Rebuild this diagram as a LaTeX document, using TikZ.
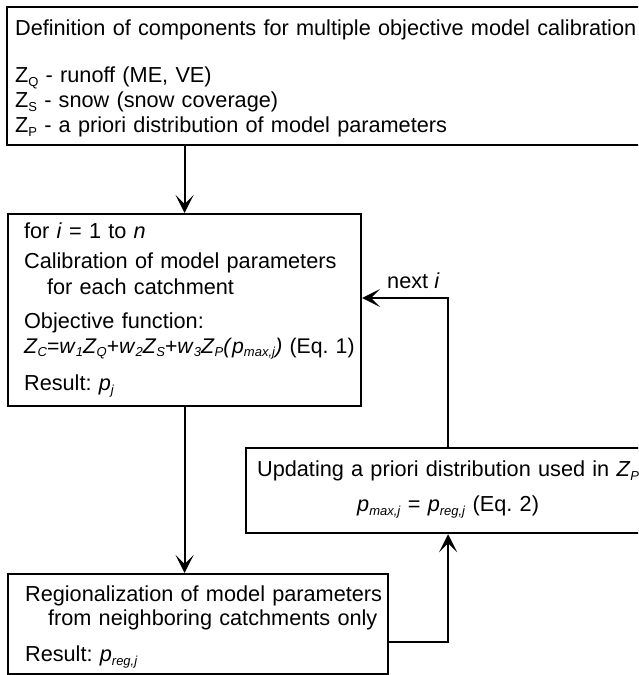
\documentclass[tikz,border=0pt]{standalone}
\usepackage{fontspec}
\setmainfont{Liberation Sans}
\usetikzlibrary{arrows.meta, positioning, calc}
\frenchspacing

% small subscripts, as set in the figure
\newcommand{\sbs}[1]{\raisebox{-0.18em}{\fontsize{13}{13}\selectfont #1}}
\newcommand{\ivar}[2]{\textit{#1}\sbs{\textit{#2}}}
\newcommand{\topstrut}[1]{\rule{0pt}{#1}}
\newcommand{\botstrut}[1]{\rule[-#1]{0pt}{0pt}}

\begin{document}
\begin{tikzpicture}[
	x=1pt, y=-1pt,
	txt/.style={font=\fontsize{21.7}{25}\selectfont},
	box/.style={rectangle, draw, line width=2.2pt, anchor=north west, inner ysep=0pt, align=left, txt},
	flow/.style={draw, line width=2.2pt, ->},
	>={Stealth[length=18pt, width=18pt, inset=9pt]}
	]
	\useasboundingbox (0,0) rectangle (638,675);
	\clip (0,0) rectangle (638,675);
	
	% Definition box (top)
	\node[box, inner xsep=8pt, text width=624pt] (definition) at (6,6) {%
		\topstrut{28pt}Definition of components for multiple objective model calibration\\[22pt]
		Z\sbs{Q} - runoff (ME, VE)\\
		Z\sbs{S} - snow (snow coverage)\\
		Z\sbs{P} - a priori distribution of model parameters\botstrut{13pt}};
	
	% Calibration loop box
	\node[box, inner xsep=16pt, text width=321pt] (calibration) at (7,213) {%
		\topstrut{24pt}for \textit{i} = 1 to \textit{n}\\[5pt]
		Calibration of model parameters\\[1pt]
		\hspace*{23pt}for each catchment\\[9pt]
		Objective function:\\
		\mbox{\fontsize{21.2}{25}\selectfont\ivar{Z}{C}=\ivar{w}{1}\ivar{Z}{Q}+\ivar{w}{2}\ivar{Z}{S}+\ivar{w}{3}\ivar{Z}{P}\textit{(}\ivar{p}{max,j}\textit{)} (Eq. 1)}\\[12pt]
		Result: \ivar{p}{j}\botstrut{16pt}};
	
	% Regionalization box (bottom)
	\node[box, inner xsep=17pt, text width=346pt] (regionalization) at (7,573) {%
		\topstrut{27pt}\mbox{Regionalization of model parameters}\\[-1pt]
		\mbox{\hspace*{23pt}from neighboring catchments only}\\[11pt]
		Result: \ivar{p}{reg,j}\botstrut{13pt}};
	
	% Updating box (right)
	\node[box, align=center, inner xsep=7pt, text width=390pt] (updating) at (245,447) {%
		\topstrut{28pt}Updating a priori distribution used in \ivar{Z}{P}\\[10pt]
		\ivar{p}{max,j} = \ivar{p}{reg,j} (Eq. 2)\botstrut{22pt}};
	
	% Main downward flow
	\draw[flow] (definition.south -| calibration.north) -- (calibration.north);
	\draw[flow] (calibration.south) -- (calibration.south |- regionalization.north);
	
	% Loop back: regionalization -> updating -> next i
	\coordinate (regionalization_out) at ($(regionalization.south east)+(0,-33)$);
	\coordinate (next_turn) at ($(updating.north)+(0,-149)$);
	\draw[flow] (regionalization_out) -| (updating.south);
	\draw[flow] (updating.north) -- (next_turn) -- (next_turn -| calibration.east);
	\node[txt, anchor=base east] (next_label) at ($(next_turn)+(-5,-10)$) {next \textit{i}};
	
\end{tikzpicture}
\end{document}
